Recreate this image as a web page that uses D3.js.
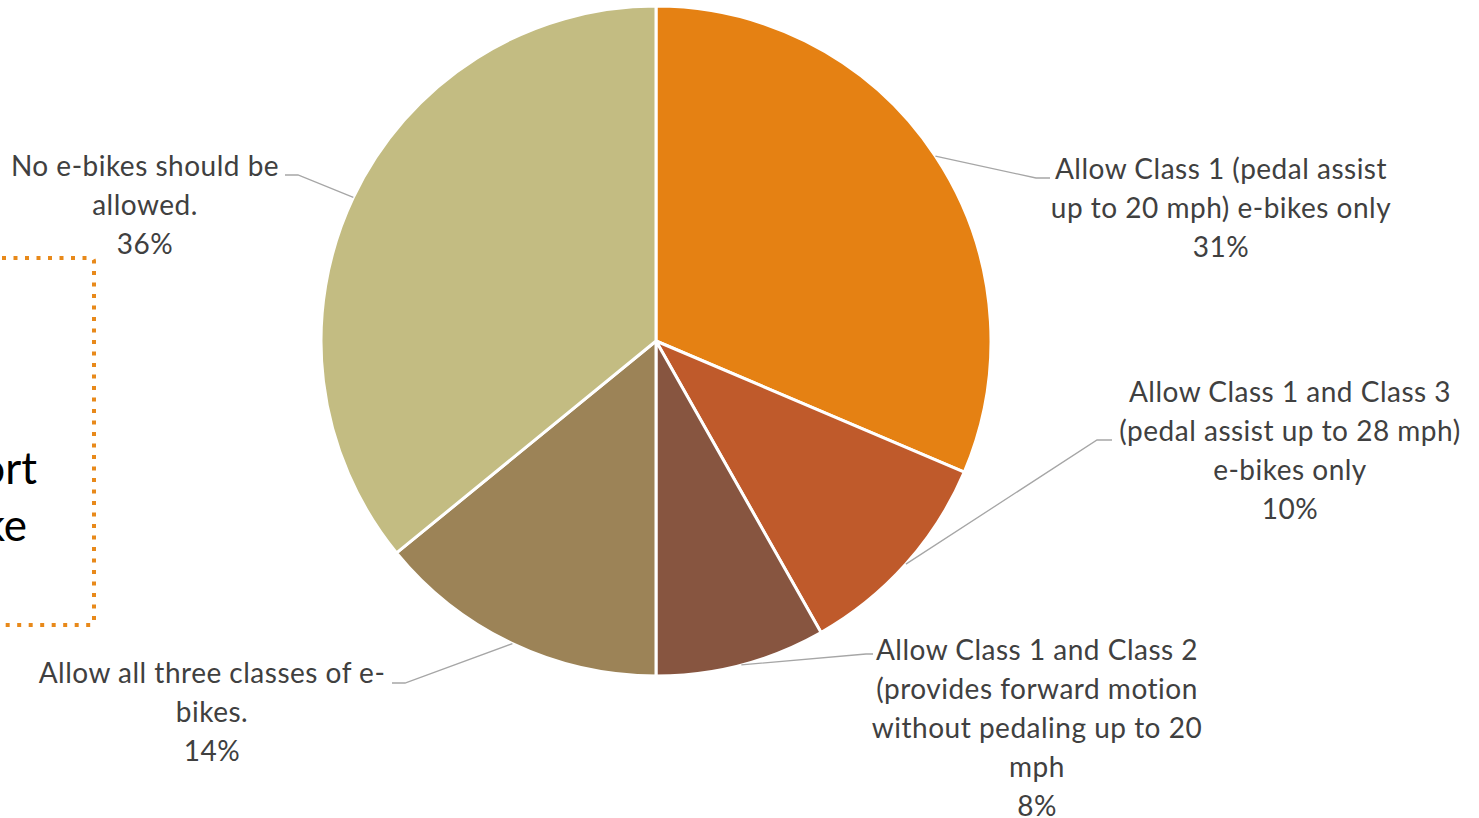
<!DOCTYPE html>
<html>
<head>
<meta charset="utf-8">
<script src="https://cdn.jsdelivr.net/npm/d3@7"></script>
<style>
  html, body { margin: 0; padding: 0; background: #fff; overflow: hidden; }
  svg { display: block; }
</style>
</head>
<body>
<svg id="chart" width="1479" height="818"></svg>
<script>
// Survey responses: which e-bike classes should be allowed (share of respondents)
const categories = [
  "Allow Class 1 (pedal assist up to 20 mph) e-bikes only",
  "Allow Class 1 and Class 3 (pedal assist up to 28 mph) e-bikes only",
  "Allow Class 1 and Class 2 (provides forward motion without pedaling up to 20 mph",
  "Allow all three classes of e-bikes.",
  "No e-bikes should be allowed."
];
const values = [0.314, 0.104, 0.082, 0.141, 0.359];
const labelLines = [
  ["Allow Class 1 (pedal assist", "up to 20 mph) e-bikes only"],
  ["Allow Class 1 and Class 3", "(pedal assist up to 28 mph)", "e-bikes only"],
  ["Allow Class 1 and Class 2", "(provides forward motion", "without pedaling up to 20", "mph"],
  ["Allow all three classes of e-", "bikes."],
  ["No e-bikes should be", "allowed."]
];
const colors = ["#E58113", "#BF5A2B", "#875540", "#9C8357", "#C3BC82"];
const pct = d3.format(".0%");

const svg = d3.select("#chart");
const cx = 656, cy = 341, radius = 335;
const font = "Lato, 'Open Sans', sans-serif";

// Callout panel at the left edge (mostly off-canvas)
const panel = svg.append("g");
panel.append("rect")
  .attr("x", -300).attr("y", 258)
  .attr("width", 394).attr("height", 367)
  .attr("rx", 3)
  .attr("fill", "none")
  .attr("stroke", "#E8891A")
  .attr("stroke-width", 4)
  .attr("stroke-dasharray", "4 7.5");
const calloutText = [
  { t: "support", x: 37, y: 484 },
  { t: "bike", x: 27, y: 541 }
];
panel.selectAll("text.callout")
  .data(calloutText)
  .join("text")
  .attr("class", "callout")
  .attr("x", d => d.x)
  .attr("y", d => d.y)
  .attr("text-anchor", "end")
  .attr("font-family", font)
  .attr("font-size", 44)
  .attr("fill", "#000")
  .text(d => d.t);

// Pie
const pie = d3.pie().sort(null).value(d => d);
const arcs = pie(values);
const arc = d3.arc().innerRadius(0).outerRadius(radius);

const g = svg.append("g").attr("transform", `translate(${cx},${cy})`);
g.selectAll("path")
  .data(arcs)
  .join("path")
  .attr("d", arc)
  .attr("fill", (d, i) => colors[i])
  .attr("stroke", "#fff")
  .attr("stroke-width", 3)
  .attr("stroke-linejoin", "round");

// Label block layout: centre x, first line centre y, and leader elbow
const labelLayout = [
  { x: 1221, y: 169, elbow: [1036, 178], end: [1050, 178] },
  { x: 1290, y: 392, elbow: [1097, 440], end: [1112, 440] },
  { x: 1037, y: 650, elbow: [866, 654], end: [873, 654] },
  { x: 212,  y: 673, elbow: [405, 683], end: [392, 683] },
  { x: 145,  y: 166, elbow: [298, 175], end: [285, 175] }
];
const lineH = 39;

arcs.forEach((a, i) => {
  const L = labelLayout[i];
  // leader starts on the rim at the slice's mid angle
  const ang = (a.startAngle + a.endAngle) / 2;
  const px = cx + Math.sin(ang) * radius;
  const py = cy - Math.cos(ang) * radius;
  svg.append("polyline")
    .attr("points", [[px, py], L.elbow, L.end].map(p => p.join(",")).join(" "))
    .attr("fill", "none")
    .attr("stroke", "#A6A6A6")
    .attr("stroke-width", 1.3);

  const lines = labelLines[i].concat([pct(a.data)]);
  svg.append("g").selectAll("text")
    .data(lines)
    .join("text")
    .attr("x", L.x)
    .attr("y", (d, j) => L.y + j * lineH)
    .attr("dy", "0.35em")
    .attr("text-anchor", "middle")
    .attr("font-family", font)
    .attr("font-size", 28)
    .attr("letter-spacing", 0.5)
    .attr("fill", "#404040")
    .text(d => d);
});
</script>
</body>
</html>
